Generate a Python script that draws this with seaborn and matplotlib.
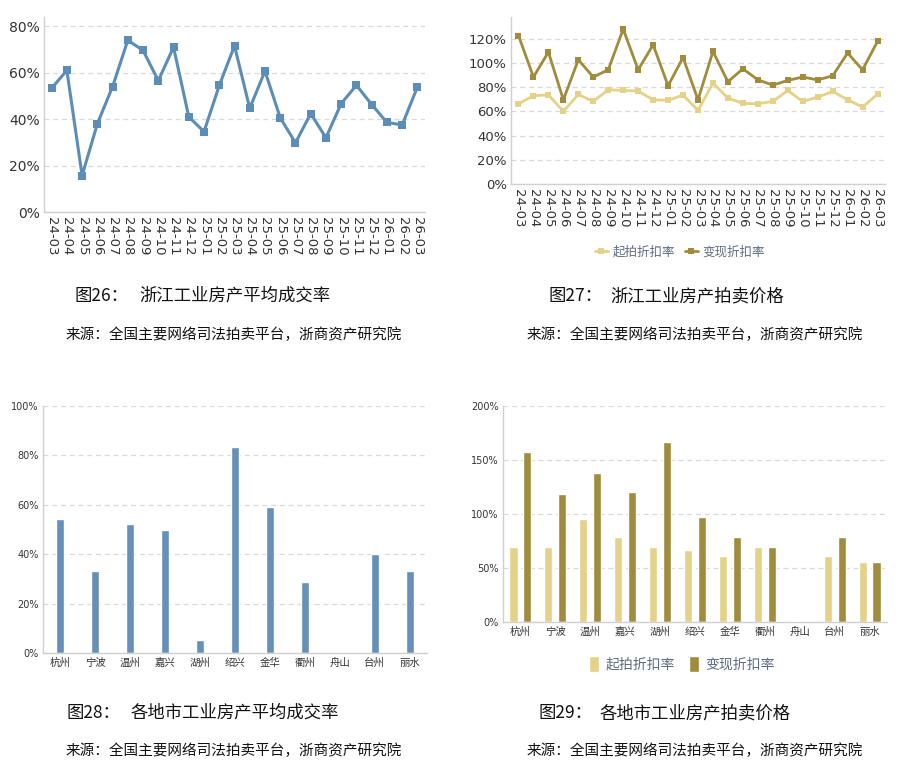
import matplotlib
matplotlib.use("Agg")
import matplotlib.pyplot as plt
import seaborn as sns
import pandas as pd
from matplotlib.ticker import FuncFormatter, FixedLocator

sns.set_theme(style="white")
plt.rcParams['font.family'] = ['DejaVu Sans', 'Noto Sans CJK SC']

# ---------------- data ----------------
months = ["24-03", "24-04", "24-05", "24-06", "24-07", "24-08", "24-09", "24-10", "24-11",
          "24-12", "25-01", "25-02", "25-03", "25-04", "25-05", "25-06", "25-07", "25-08",
          "25-09", "25-10", "25-11", "25-12", "26-01", "26-02", "26-03"]
deal_rate = [53.3, 61, 15.7, 38, 54, 74, 69.6, 56.6, 71, 41, 34.6, 54.5, 71.6, 44.7, 60.7,
             40.6, 29.8, 42.4, 32, 46.7, 54.6, 46.3, 38.6, 37.5, 53.8]
start_disc = [66.3, 72.9, 73.7, 60, 74, 68.2, 77.9, 77.3, 76.8, 69.6, 69.1, 73.5, 60.8, 83.4,
              71, 66.6, 66.3, 68.2, 77.3, 68.2, 71.8, 76.5, 69.6, 63.6, 74.3]
real_disc = [122.7, 88.4, 109, 69.6, 102.6, 88.4, 94.4, 128, 94.4, 115, 81.2, 104.5, 69.6,
             109.5, 84.5, 95.2, 86.1, 81.7, 85.6, 88.4, 86, 89.4, 108.2, 94.4, 117.8]

cities = ["杭州", "宁波", "温州", "嘉兴", "湖州", "绍兴", "金华", "衢州", "舟山", "台州", "丽水"]
city_rate = [54.4, 33.3, 52.3, 49.9, 5.4, 83.3, 59.2, 28.6, 0.4, 39.9, 33.3]
city_start = [69.6, 69.6, 94.9, 78.2, 69.6, 66.5, 60.9, 69.6, 0.5, 60.9, 55.3]
city_real = [157.3, 118.7, 137.6, 119.9, 166.3, 97.4, 78.8, 69.6, 0.5, 78.8, 55.3]

series_names = ["起拍折扣率", "变现折扣率"]
captions = [("图26：", "浙江工业房产平均成交率"), ("图27：", "浙江工业房产拍卖价格"),
            ("图28：", "各地市工业房产平均成交率"), ("图29：", "各地市工业房产拍卖价格")]
source = "来源：全国主要网络司法拍卖平台，浙商资产研究院"

BLUE_LINE = "#5B8DB6"
BLUE_BAR = "#6690B8"
LIGHT = "#E4D288"
DARK = "#A08C3C"
GRID = "#d9d9d9"
SPINE = "#d0d0d0"
TXT = "#333333"
CJK = ['Noto Sans CJK SC', 'DejaVu Sans']

fig = plt.figure(figsize=(9, 7.74), dpi=100)
W, H = 900, 774


def add_ax(l, r, b, t):
    return fig.add_axes([l / W, 1 - b / H, (r - l) / W, (b - t) / H])


def style(ax, ymax, yticks, ysize, n):
    ax.set_ylim(0, ymax)
    ax.set_xlim(-0.5, n - 0.5)
    ax.set_yticks(yticks)
    ax.yaxis.set_major_formatter(FuncFormatter(lambda v, p: f"{v:.0f}%"))
    ax.grid(axis='y', linestyle=(0, (4, 3)), color=GRID, linewidth=0.9)
    ax.set_axisbelow(True)
    for s in ['top', 'right']:
        ax.spines[s].set_visible(False)
    for s in ['left', 'bottom']:
        ax.spines[s].set_color(SPINE)
        ax.spines[s].set_linewidth(1.0)
    ax.tick_params(axis='y', length=0, labelsize=ysize, labelcolor=TXT, pad=3)
    ax.tick_params(axis='x', which='major', length=0, labelcolor=TXT)
    ax.xaxis.set_minor_locator(FixedLocator([i + 0.5 for i in range(-1, n)]))
    ax.tick_params(axis='x', which='minor', length=4, color=SPINE, width=0.8)
    ax.set_xlabel("")
    ax.set_ylabel("")


# ---------- Chart 26 ----------
ax1 = add_ax(44, 425, 212, 17)
df1 = pd.DataFrame({"m": months, "v": deal_rate})
sns.lineplot(data=df1, x="m", y="v", ax=ax1, color=BLUE_LINE, linewidth=2.2,
             marker="s", markersize=5.5, markeredgewidth=0, sort=False)
style(ax1, 84, [0, 20, 40, 60, 80], 10, len(months))
ax1.set_xticks(range(len(months)))
ax1.set_xticklabels(months, rotation=-90, fontsize=9.5)

# ---------- Chart 27 ----------
ax2 = add_ax(511, 885, 184, 17)
df2 = pd.DataFrame({"m": months * 2,
                    "v": start_disc + real_disc,
                    "s": [series_names[0]] * len(months) + [series_names[1]] * len(months)})
sns.lineplot(data=df2, x="m", y="v", hue="s", ax=ax2,
             palette={series_names[0]: LIGHT, series_names[1]: DARK},
             linewidth=2.0, marker="s", markersize=5, markeredgewidth=0, sort=False)
style(ax2, 138, [0, 20, 40, 60, 80, 100, 120], 9.5, len(months))
ax2.set_xticks(range(len(months)))
ax2.set_xticklabels(months, rotation=-90, fontsize=9.5)
h, l = ax2.get_legend_handles_labels()
ax2.legend(h, l, loc='center', bbox_to_anchor=(680 / W, 1 - 252 / H),
           bbox_transform=fig.transFigure, ncol=2, frameon=False,
           prop={'family': CJK, 'size': 9}, labelcolor="#5f6b80",
           handlelength=1.0, columnspacing=0.8, handletextpad=0.4)

# ---------- Chart 28 ----------
ax3 = add_ax(43, 427, 653, 406)
df3 = pd.DataFrame({"c": cities, "v": city_rate})
sns.barplot(data=df3, x="c", y="v", ax=ax3, color=BLUE_BAR, width=0.23, saturation=1)
style(ax3, 100, [0, 20, 40, 60, 80, 100], 7, len(cities))
ax3.set_xticks(range(len(cities)))
ax3.set_xticklabels(cities, fontsize=7.5, family=CJK)

# ---------- Chart 29 ----------
ax4 = add_ax(503, 887, 621.7, 406)
df4 = pd.DataFrame({"c": cities * 2,
                    "v": city_start + city_real,
                    "s": [series_names[0]] * len(cities) + [series_names[1]] * len(cities)})
sns.barplot(data=df4, x="c", y="v", hue="s", ax=ax4,
            palette={series_names[0]: LIGHT, series_names[1]: DARK},
            width=0.8, gap=0.42, saturation=1)
style(ax4, 200, [0, 50, 100, 150, 200], 7, len(cities))
ax4.set_xticks(range(len(cities)))
ax4.set_xticklabels(cities, fontsize=7.5, family=CJK)
h, l = ax4.get_legend_handles_labels()
ax4.legend(h, l, loc='center', bbox_to_anchor=(682 / W, 1 - 664 / H),
           bbox_transform=fig.transFigure, ncol=2, frameon=False,
           prop={'family': CJK, 'size': 10}, labelcolor="#5f6b80",
           handlelength=0.7, handleheight=1.3, columnspacing=1.0, handletextpad=0.5)

# ---------- captions ----------
cap_pos = [(75, 139, 296, 66, 335), (548, 610, 296, 527, 335),
           (66, 131, 713, 66, 751), (538, 600, 713, 527, 751)]
for (num, title), (xn, xt, yt, xs, ys) in zip(captions, cap_pos):
    fig.text(xn / W, 1 - yt / H, num, fontsize=12.5, family=CJK, va='center', color="#111111")
    fig.text(xt / W, 1 - yt / H, title, fontsize=12.5, family=CJK, va='center', color="#111111")
    fig.text(xs / W, 1 - ys / H, source, fontsize=10.5, family=CJK, va='center', color="#111111")

fig.savefig("out.png", dpi=100, facecolor="white")
